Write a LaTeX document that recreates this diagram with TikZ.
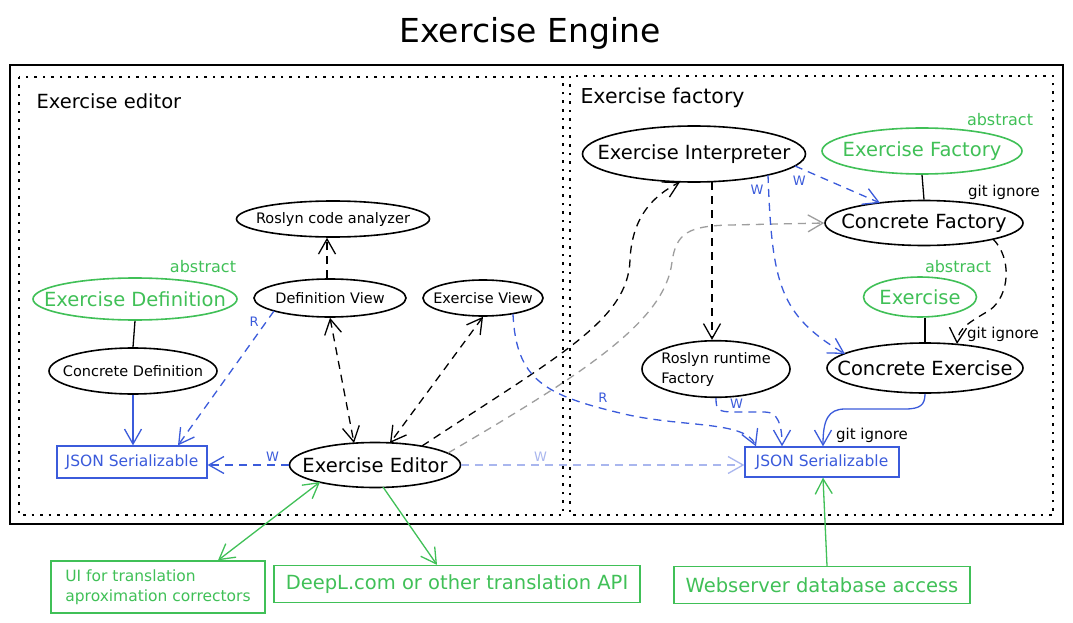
\documentclass[tikz,border=0pt]{standalone}
\usepackage{fontspec}
\setmainfont{DejaVu Sans}
\usetikzlibrary{shapes.geometric,arrows.meta,calc}
\definecolor{xgreen}{HTML}{40C057}
\definecolor{xblue}{HTML}{3B5BDB}
\definecolor{xlav}{HTML}{A9B6EE}
\definecolor{xgray}{HTML}{9E9E9E}
\newcommand\zw[1]{\makebox[0pt]{#1}}
\begin{document}
\begin{tikzpicture}[x=1pt,y=-1pt,
  ell/.style={ellipse, draw, line width=1.6pt, inner sep=0pt, text=black},
  gell/.style={ell, draw=xgreen, text=xgreen},
  bbox/.style={rectangle, draw=xblue, text=xblue, line width=1.3pt, inner sep=0pt},
  gbox/.style={rectangle, draw=xgreen, text=xgreen, line width=1.3pt, inner sep=0pt},
  big/.style={font=\fontsize{19.5}{23}\selectfont},
  small/.style={font=\fontsize{14.5}{20}\selectfont},
  lbl/.style={font=\fontsize{13}{15}\selectfont, inner sep=1pt},
  note/.style={font=\fontsize{15}{17}\selectfont, inner sep=0pt},
  abstr/.style={font=\fontsize{16}{18}\selectfont, text=xgreen, inner sep=0pt},
  conn/.style={line width=1.3pt, -{Straight Barb[length=15pt,width=17pt]}},
  both/.style={line width=1.3pt, {Straight Barb[length=15pt,width=17pt]}-{Straight Barb[length=15pt,width=17pt]}},
  dsh/.style={dash pattern=on 8pt off 6pt},
  dotframe/.style={line width=2.5pt, dash pattern=on 2.5pt off 6pt}
]
\useasboundingbox (0,0) rectangle (1073,623);
\fill[white] (0,0) rectangle (1073,623);

% title and frames
\node[font=\fontsize{33}{36}\selectfont] (title) at (530,33) {Exercise Engine};
\draw[line width=2.6pt] (10,65) rectangle (1063,524);
\draw[dotframe] (19,77) rectangle (563,515);
\draw[dotframe] (570,76) rectangle (1053,515);
\node[anchor=west, font=\fontsize{19.5}{22}\selectfont] (lbl1) at (33,101) {Exercise editor};
\node[anchor=west, font=\fontsize{20.5}{23}\selectfont] (lbl2) at (577,98) {Exercise factory};

% left nodes
\node[ell, small, minimum width=193pt, minimum height=36pt] (rca) at (333,219) {\zw{Roslyn code analyzer}};
\node[ell, small, minimum width=152pt, minimum height=38pt] (dv) at (330,298) {\zw{Definition View}};
\node[ell, small, minimum width=120pt, minimum height=36pt] (ev) at (483,298) {\zw{Exercise View}};
\node[gell, big, minimum width=204pt, minimum height=42pt] (edf) at (135,299) {\zw{Exercise Definition}};
\node[abstr] (abs1) at (203,267) {abstract};
\node[ell, small, minimum width=168pt, minimum height=46pt] (cd) at (133,371) {\zw{Concrete Definition}};
\node[bbox, font=\fontsize{15.5}{18}\selectfont, minimum width=150pt, minimum height=32pt] (jl) at (132,462) {JSON Serializable};
\node[ell, big, minimum width=171pt, minimum height=45pt] (ee) at (375,465) {\zw{Exercise Editor}};

% right nodes
\node[ell, big, minimum width=223pt, minimum height=56pt] (ei) at (694,154) {\zw{Exercise Interpreter}};
\node[gell, big, minimum width=200pt, minimum height=46pt] (ef) at (922,151) {\zw{Exercise Factory}};
\node[abstr] (abs2) at (1000,120) {abstract};
\node[note] (gi1) at (1004,192) {git ignore};
\node[ell, big, minimum width=198pt, minimum height=45pt] (cf) at (924,223) {\zw{Concrete Factory}};
\node[abstr] (abs3) at (958,267) {abstract};
\node[gell, big, minimum width=113pt, minimum height=40pt] (ex) at (920,297) {\zw{Exercise}};
\node[note] (gi2) at (1003,334) {git ignore};
\node[ell, big, minimum width=196pt, minimum height=50pt] (ce) at (925,368) {\zw{Concrete Exercise}};
\node[ell, small, minimum width=148pt, minimum height=48pt] (rrf) at (716,369) {\zw{\begin{tabular}{@{}l@{}}Roslyn runtime\\Factory\end{tabular}}};
\node[bbox, font=\fontsize{15.5}{18}\selectfont, minimum width=154pt, minimum height=30pt] (jr) at (822,462) {JSON Serializable};
\node[note] (gi3) at (872,435) {git ignore};

% bottom boxes
\node[gbox, font=\fontsize{15.5}{20}\selectfont, align=left, minimum width=214pt, minimum height=52pt] (ui) at (158,587) {UI for translation\\aproximation correctors};
\node[gbox, big, minimum width=366pt, minimum height=37pt] (dl) at (457,584) {DeepL.com or other translation API};
\node[gbox, big, minimum width=296pt, minimum height=37pt] (ws) at (822,585) {Webserver database access};

% connectors left
\draw[conn, dsh] ($(dv.north)+(-3,0)$) -- ($(rca.south)+(-6,0)$);
\draw[line width=1.3pt] (edf.south) -- (cd.north);
\draw[conn, xblue] (cd.south) -- (cd.south |- jl.north);
\draw[conn, dsh, xblue] ($(dv)+(-56,13)$) -- node[lbl, pos=0.08, left=6pt, text=xblue] {R} ($(jl.north)+(46,0)$);
\draw[both, dsh] (dv.south) -- ($(ee)+(-21,-22)$);
\draw[both, dsh] (ev.south) -- ($(ee)+(15,-22)$);
\draw[conn, dsh, xblue] (ee.west) -- node[lbl, pos=0.2, above=2pt, text=xblue] {W} (ee.west -| jl.east);
\draw[conn, dsh, xlav] (ee.east) -- node[lbl, pos=0.28, above=2pt, text=xlav] {W} (ee.east -| jr.west);
\draw[conn, dsh] ($(ee)+(47,-19)$) .. controls (560,355) and (628,320) .. (630,260)
   .. controls (632,215) and (655,195) .. ($(ei)+(-14,28)$);
\draw[conn, dsh, xgray] ($(ee)+(73,-12)$) .. controls (590,370) and (665,320) .. (672,262)
   .. controls (676,232) and (690,226) .. (730,225) -- (cf.west);
\draw[conn, dsh, xblue] ($(ev)+(30,16)$) .. controls (516,380) and (545,395) .. (620,413)
   node[lbl, pos=0.92, above=5pt, text=xblue] {R}
   .. controls (680,428) and (745,420) .. ($(jr.north)+(-66,0)$);

% connectors right
\draw[conn, dsh] ($(ei)+(18,28)$) -- ($(rrf.north)+(-4,0)$);
\draw[conn, dsh, xblue] ($(ei)+(101,12)$) -- node[lbl, pos=0.05, below=7pt, text=xblue] {W} ($(cf)+(-44,-20)$);
\draw[conn, dsh, xblue] ($(ei)+(74,21)$) node[lbl, anchor=north east, xshift=-3pt, yshift=-8pt, text=xblue] {W}
   .. controls (772,285) and (780,315) .. ($(ce)+(-80,-14)$);
\draw[line width=1.3pt] (ef.south) -- (cf.north);
\draw[conn, dsh] ($(cf)+(69,16)$) .. controls (1012,258) and (1010,295) .. (990,310)
   .. controls (970,322) and (958,328) .. ($(ce)+(32,-24)$);
\draw[line width=1.3pt] (ex.south -| ce.north) -- (ce.north);
\draw[conn, dsh, xblue] (rrf.south) .. controls (716,410) and (718,412) .. (735,412)
   -- node[lbl, pos=0.05, above=2pt, text=xblue] {W} (765,412)
   .. controls (778,412) and (782,425) .. ($(jr.north)+(-40,0)$);
\draw[conn, xblue] (ce.south) .. controls (925,405) and (920,409) .. (905,409) -- (845,409)
   .. controls (828,409) and (823,420) .. ($(jr.north)+(1,0)$);

% green connectors
\draw[both, xgreen] ($(ui.north)+(60,0)$) -- ($(ee)+(-55,17)$);
\draw[conn, xgreen] ($(ee)+(8,22)$) -- ($(dl.north)+(-20,0)$);
\draw[conn, xgreen] ($(ws.north)+(5,0)$) -- ($(jr.south)+(1,0)$);
\end{tikzpicture}
\end{document}
